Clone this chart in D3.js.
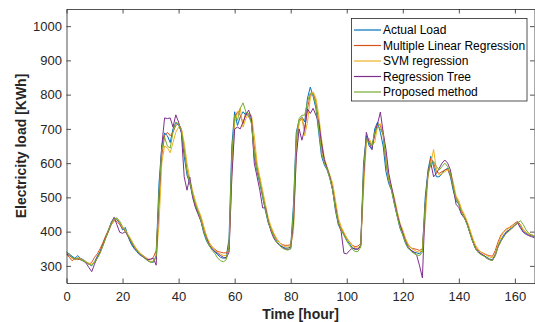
<!DOCTYPE html>
<html><head><meta charset="utf-8">
<script src="https://cdn.jsdelivr.net/npm/d3@7"></script>
<style>
body{margin:0;background:#fff;}
svg{display:block;}
text{font-family:"Liberation Sans",Arial,Helvetica,sans-serif;}
</style>
</head><body>
<svg id="c" width="535" height="322"></svg>
<script>
// ---- data ----
const hours = d3.range(0, 168);
const xTicks = [0, 20, 40, 60, 80, 100, 120, 140, 160];
const yTicks = [300, 400, 500, 600, 700, 800, 900, 1000];
const seriesNames = ["Actual Load", "Multiple Linear Regression", "SVM regression", "Regression Tree", "Proposed method"];
const seriesColors = ["#0072BD", "#D95319", "#EDB120", "#7E2F8E", "#77AC30"];

const actualLoad = [
  340,335,328,322,330,322,318,312,305,300,312,328,
  342,365,385,405,428,440,435,425,405,412,385,365,
  352,342,333,328,322,315,312,310,330,540,650,688,
  680,660,700,718,712,690,620,565,540,505,475,455,
  430,395,372,358,348,340,332,325,322,325,380,650,
  750,710,735,750,740,745,720,620,575,540,500,460,
  425,405,385,372,362,356,352,352,355,480,690,725,
  735,720,790,822,795,760,690,620,595,580,555,520,
  460,420,405,390,375,365,352,348,350,360,600,680,
  650,640,700,720,690,650,575,540,520,480,445,410,
  390,365,350,345,340,338,335,345,500,580,620,590,
  560,560,570,580,585,560,520,490,480,450,440,420,
  395,370,350,340,335,330,325,320,318,335,360,375,
  390,400,405,412,420,428,415,400,395,390,388,385
];
const mlr = [
  335,325,315,322,318,320,315,310,305,310,325,335,
  350,368,388,405,420,432,430,420,410,400,388,375,
  360,348,338,332,326,320,318,325,345,480,620,680,
  690,680,690,710,715,700,640,580,545,510,480,460,
  440,410,385,365,355,348,342,340,338,338,350,600,
  730,750,740,715,748,735,725,650,590,550,510,470,
  430,410,392,378,368,362,360,360,362,420,660,720,
  730,700,760,800,805,780,720,650,605,585,560,530,
  480,430,410,395,380,370,360,356,358,365,560,670,
  665,650,680,715,710,680,600,550,525,490,455,420,
  400,375,360,352,350,348,345,350,470,570,615,600,
  575,570,575,580,582,565,530,500,485,460,445,425,
  400,375,355,345,340,336,332,330,328,345,370,390,
  400,408,412,418,425,430,420,405,398,392,390,388
];
const svm = [
  338,330,322,318,325,320,316,312,308,305,310,322,
  338,358,380,400,420,435,438,428,412,405,392,378,
  362,350,340,332,325,318,312,315,322,420,600,650,
  645,630,660,690,705,700,660,600,555,520,490,465,
  445,415,385,368,355,345,338,334,330,330,345,560,
  720,745,760,705,730,745,740,680,600,560,520,480,
  440,415,395,380,368,360,356,355,358,400,620,720,
  735,680,720,790,808,790,740,670,615,590,565,540,
  490,440,415,398,382,370,358,352,352,358,520,660,
  672,655,660,710,715,690,620,560,530,500,460,425,
  405,380,362,352,346,342,340,345,430,560,600,640,
  580,565,570,575,580,575,545,505,490,465,450,430,
  405,380,360,348,340,335,330,326,324,335,362,385,
  398,405,410,415,420,425,418,405,398,392,390,388
];
const regTree = [
  335,330,325,320,322,318,314,308,295,283,305,325,
  340,360,382,402,425,442,420,398,395,400,385,370,
  355,345,335,328,322,318,320,322,302,500,650,732,
  730,732,705,741,720,688,560,521,559,500,470,450,
  430,400,380,360,350,342,336,330,325,322,340,560,
  700,705,700,720,740,755,730,600,560,520,469,470,
  430,400,380,368,360,355,350,348,350,430,620,700,
  667,700,758,745,760,740,720,660,610,585,560,520,
  470,425,400,337,335,345,352,350,348,360,560,690,
  660,640,690,715,749,690,640,570,530,490,450,420,
  395,370,355,345,340,330,300,265,480,570,600,560,
  570,585,600,609,600,580,530,480,470,450,440,422,
  395,370,350,340,335,330,322,318,316,330,355,372,
  385,398,405,410,418,425,410,398,392,388,385,382
];
const proposed = [
  342,332,325,320,322,318,315,310,305,302,310,322,
  338,360,382,405,425,438,440,430,415,402,388,372,
  358,346,336,330,322,315,310,312,328,510,640,676,
  650,644,690,720,715,695,640,575,545,510,480,458,
  432,400,375,358,345,335,322,315,312,318,360,620,
  740,725,760,776,750,740,715,630,580,545,505,465,
  428,405,385,370,360,352,348,346,350,460,680,730,
  740,740,780,805,800,770,700,630,600,582,555,520,
  465,425,405,390,372,360,348,342,342,355,580,670,
  660,650,690,705,700,685,600,548,520,482,445,412,
  390,368,352,342,336,332,330,340,480,570,600,605,
  590,580,590,600,590,570,530,495,480,455,440,420,
  395,370,350,338,332,328,322,318,316,330,356,372,
  385,395,402,410,418,425,432,420,405,395,390,385
];
const allSeries = [actualLoad, mlr, svm, regTree, proposed];

// ---- layout ----
const L = 66.5, R = 534.5, T = 9, B = 283;
const svg = d3.select("#c");
const x = d3.scaleLinear().domain([0, 167]).range([L, R]);
const y = d3.scaleLinear().domain([250, 1050]).range([B, T]);
const axisCol = "#262626";

svg.append("rect").attr("x",0).attr("y",0).attr("width",535).attr("height",322).attr("fill","#fff");

svg.append("defs").append("clipPath").attr("id","clip")
  .append("rect").attr("x",L).attr("y",T).attr("width",R-L).attr("height",B-T);

// lines
const line = d3.line().x((d,i)=>x(hours[i])).y(d=>y(d));
const g = svg.append("g").attr("clip-path","url(#clip)");
allSeries.forEach((s,k)=>{
  g.append("path").datum(s).attr("d",line).attr("fill","none")
   .attr("stroke",seriesColors[k]).attr("stroke-width",1).attr("stroke-linejoin","round");
});

// axes
const fs = 13;
const fmt = d3.format("d");
const xAx = svg.append("g").attr("transform",`translate(0,${B})`)
  .call(d3.axisBottom(x).tickValues(xTicks).tickFormat(fmt).tickSizeInner(-4.5).tickSizeOuter(0).tickPadding(8.5));
const yAx = svg.append("g").attr("transform",`translate(${L},0)`)
  .call(d3.axisLeft(y).tickValues(yTicks).tickFormat(fmt).tickSizeInner(-4.5).tickSizeOuter(0).tickPadding(4.5));
const xTop = svg.append("g").attr("transform",`translate(0,${T})`)
  .call(d3.axisTop(x).tickValues(xTicks).tickSizeInner(-4.5).tickSizeOuter(0).tickFormat(""));
const yRight = svg.append("g").attr("transform",`translate(${R},0)`)
  .call(d3.axisRight(y).tickValues(yTicks).tickSizeInner(-4.5).tickSizeOuter(0).tickFormat(""));
[xAx,yAx,xTop,yRight].forEach(a=>{
  a.select(".domain").attr("stroke",axisCol).attr("stroke-width",0.8);
  a.selectAll(".tick line").attr("stroke",axisCol).attr("stroke-width",0.8);
  a.selectAll("text").attr("fill",axisCol).style("font-size",fs+"px")
   .style("font-family",'"Liberation Sans",Arial,sans-serif');
});

// axis labels
svg.append("text").attr("x",(L+R)/2).attr("y",319).attr("text-anchor","middle")
  .attr("font-weight","bold").attr("font-size",14).attr("fill",axisCol).text("Time [hour]");
svg.append("text").attr("transform",`translate(26,${(T+B)/2}) rotate(-90)`).attr("text-anchor","middle")
  .attr("font-weight","bold").attr("font-size",14).attr("fill",axisCol).text("Electricity load [KWh]");

// legend
const lg = svg.append("g");
lg.append("rect").attr("x",351.5).attr("y",18.5).attr("width",175.5).attr("height",82.5)
  .attr("fill","#fff").attr("stroke",axisCol).attr("stroke-width",0.8);
seriesNames.forEach((n,k)=>{
  const yy = 30 + k*15.5;
  lg.append("line").attr("x1",354).attr("x2",381).attr("y1",yy).attr("y2",yy)
    .attr("stroke",seriesColors[k]).attr("stroke-width",1.2);
  lg.append("text").attr("x",383).attr("y",yy).attr("dy","0.36em")
    .attr("font-size",12).attr("fill","#000").text(n);
});
</script>
</body></html>
